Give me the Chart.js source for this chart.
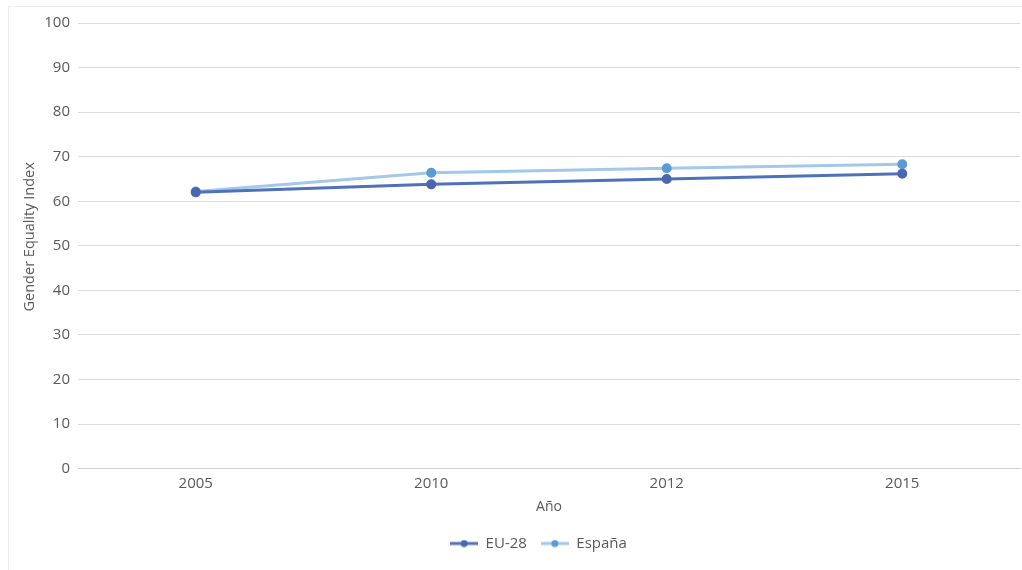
<!DOCTYPE html>
<html>
<head>
<meta charset="utf-8">
<script src="https://cdn.jsdelivr.net/npm/chart.js@4/dist/chart.umd.min.js"></script>
<style>
  html, body { margin: 0; padding: 0; background: #ffffff; overflow: hidden; }
  #wrap { position: relative; width: 1022px; height: 570px; }
  canvas { display: block; }
</style>
</head>
<body>
<div id="wrap"><canvas id="c" width="1022" height="570"></canvas></div>
<script>
// Gender Equality Index, EU-28 vs España
const years = ['2005', '2010', '2012', '2015'];
const eu28 = [62.0, 63.8, 65.0, 66.2];
const espana = [62.2, 66.4, 67.4, 68.3];
const yTicks = [0, 10, 20, 30, 40, 50, 60, 70, 80, 90, 100];
const yTitle = 'Gender Equality Index';

const textColor = '#595959';
const fontFamily = '"Open Sans", Lato, sans-serif';

// thin frame around the whole chart
const framePlugin = {
  id: 'frame',
  beforeDraw(chart) {
    const ctx = chart.ctx;
    ctx.save();
    ctx.strokeStyle = '#ececec';
    ctx.lineWidth = 1;
    ctx.strokeRect(8.5, 6.5, 1030, 580);
    ctx.restore();
  }
};

// y-axis title, drawn slightly above the plot's vertical centre
const yTitlePlugin = {
  id: 'yTitle',
  afterDraw(chart) {
    const ctx = chart.ctx;
    const area = chart.chartArea;
    const ys = chart.scales.y;
    ctx.save();
    ctx.translate(ys.left + 12, (area.top + area.bottom) / 2 - 9);
    ctx.rotate(-Math.PI / 2);
    ctx.fillStyle = textColor;
    ctx.font = '14.5px ' + fontFamily;
    ctx.textAlign = 'center';
    ctx.textBaseline = 'middle';
    ctx.fillText(yTitle, 0, 0);
    ctx.restore();
  }
};

// the legend sits a little left of the plot's centre
const legendShift = {
  id: 'legendShift',
  afterLayout(chart) {
    const lg = chart.legend;
    const area = chart.chartArea;
    const d = (area.left + area.right) / 2 - 10.5 - (lg.left + lg.right) / 2;
    lg.left += d;
    lg.right += d;
  }
};

// legend swatch: short line with a dot in the middle
function swatch(lineColor, dotColor) {
  const c = document.createElement('canvas');
  c.width = 28;
  c.height = 8;
  const g = c.getContext('2d');
  g.strokeStyle = lineColor;
  g.lineWidth = 3;
  g.beginPath();
  g.moveTo(0, 4);
  g.lineTo(28, 4);
  g.stroke();
  g.fillStyle = dotColor;
  g.beginPath();
  g.arc(14, 4, 3.5, 0, Math.PI * 2);
  g.fill();
  return c;
}

const seriesStyle = [
  { line: '#4f71ba', dot: '#4a66b0' },
  { line: '#a3c8ea', dot: '#5b9bd5' }
];

new Chart(document.getElementById('c'), {
  type: 'line',
  data: {
    labels: years,
    datasets: [
      {
        label: 'EU-28',
        data: eu28,
        borderColor: seriesStyle[0].line,
        backgroundColor: seriesStyle[0].dot,
        pointBackgroundColor: seriesStyle[0].dot,
        pointBorderColor: seriesStyle[0].dot,
        borderWidth: 3,
        pointRadius: 3.5,
        tension: 0
      },
      {
        label: 'España',
        data: espana,
        borderColor: seriesStyle[1].line,
        backgroundColor: seriesStyle[1].dot,
        pointBackgroundColor: seriesStyle[1].dot,
        pointBorderColor: seriesStyle[1].dot,
        borderWidth: 3,
        pointRadius: 3.5,
        tension: 0
      }
    ]
  },
  options: {
    responsive: false,
    animation: false,
    layout: { autoPadding: false, padding: { left: 18, right: 2, top: 23, bottom: 9 } },
    plugins: {
      legend: {
        position: 'bottom',
        labels: {
          color: textColor,
          font: { family: fontFamily, size: 15 },
          usePointStyle: true,
          pointStyleWidth: 28,
          boxHeight: 8,
          padding: 14,
          generateLabels(chart) {
            return chart.data.datasets.map((ds, i) => ({
              text: ds.label,
              pointStyle: swatch(seriesStyle[i].line, seriesStyle[i].dot),
              fillStyle: ds.borderColor,
              strokeStyle: ds.borderColor,
              lineWidth: 0,
              datasetIndex: i,
              fontColor: textColor
            }));
          }
        }
      },
      tooltip: { enabled: false }
    },
    scales: {
      x: {
        offset: true,
        grid: { display: false, drawTicks: false },
        border: { color: '#cfcfcf', width: 1 },
        ticks: { color: textColor, font: { family: fontFamily, size: 15, lineHeight: 1 }, padding: 7.5 },
        title: {
          display: true,
          text: 'Año',
          color: textColor,
          font: { family: fontFamily, size: 14 },
          padding: { top: 0, bottom: 6.5 }
        }
      },
      y: {
        min: 0,
        max: 100,
        afterBuildTicks(scale) { scale.ticks = yTicks.map(v => ({ value: v })); },
        afterFit(scale) { scale.width = 60; },
        grid: { color: '#dcdcdc', drawTicks: false },
        border: { display: false },
        ticks: { color: textColor, font: { family: fontFamily, size: 15 }, padding: 8 },
        title: { display: false }
      }
    }
  },
  plugins: [framePlugin, legendShift, yTitlePlugin]
});
</script>
</body>
</html>
